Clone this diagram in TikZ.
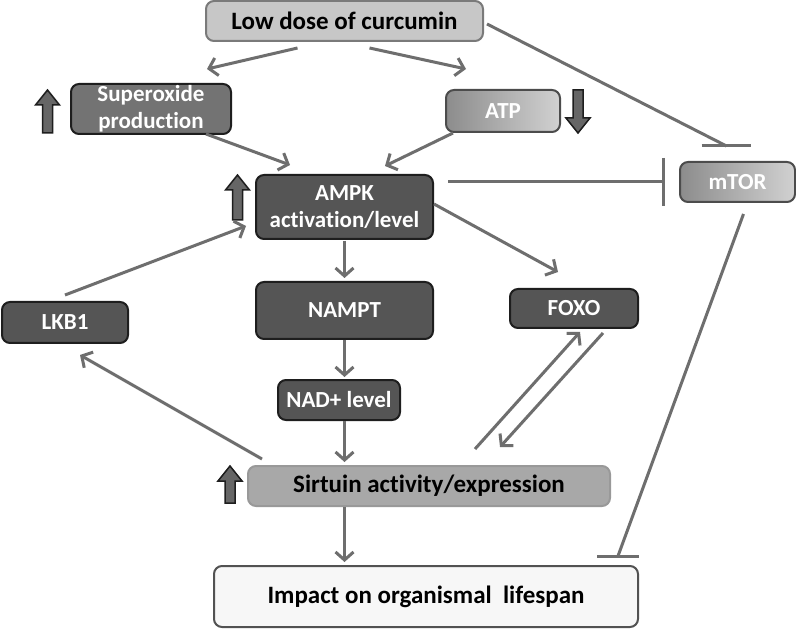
\documentclass[tikz,border=0pt]{standalone}
\usepackage{fontspec}
\setmainfont{Carlito}[Ligatures=NoCommon]
\usetikzlibrary{arrows.meta,calc}
\definecolor{linegray}{HTML}{6E6E6E}
\definecolor{darkbox}{HTML}{555555}
\definecolor{midbox}{HTML}{737373}
\definecolor{boxedge}{HTML}{1E1E1E}
\tikzset{
  box/.style={rounded corners=8pt, line width=2pt, align=center, font=\bfseries\fontsize{23}{27}\selectfont, inner sep=0pt},
  bigbox/.style={box, font=\bfseries\fontsize{25}{29}\selectfont},
  darknode/.style={box, fill=darkbox, draw=boxedge, text=white},
  gradnode/.style={box, left color=black!45, right color=black!18, draw=black!70, text=white},
  conn/.style={draw=linegray, line width=3pt, -{Straight Barb[length=8pt,width=18pt]}},
  inhib/.style={draw=linegray, line width=3pt},
  blockarr/.style={fill=black!60, draw=boxedge, line width=1.5pt, line join=miter}
}
\newcommand\upblock[3]{\draw[blockarr] (#1-5,#3) -- (#1+5,#3) -- (#1+5,#2+15) -- (#1+12,#2+15) -- (#1,#2) -- (#1-12,#2+15) -- (#1-5,#2+15) -- cycle;}
\newcommand\downblock[3]{\draw[blockarr] (#1-5,#2) -- (#1+5,#2) -- (#1+5,#3-15) -- (#1+12,#3-15) -- (#1,#3) -- (#1-12,#3-15) -- (#1-5,#3-15) -- cycle;}
\begin{document}
\begin{tikzpicture}[x=1pt,y=-1pt]
\path[use as bounding box, fill=white] (0,0) rectangle (796,631);

\node[bigbox, fill=black!22, draw=black!52, minimum width=277pt, minimum height=40pt] (low) at (344.5,21) {Low dose of curcumin};
\node[box, fill=midbox, draw=boxedge, text=white, minimum width=160pt, minimum height=50pt] (sup) at (151,109) {Superoxide\\production};
\node[gradnode, minimum width=114pt, minimum height=42pt] (atp) at (503,111) {ATP};
\node[darknode, minimum width=177pt, minimum height=64pt] (ampk) at (344.5,207) {AMPK\\activation/level};
\node[gradnode, minimum width=115pt, minimum height=40pt] (mtor) at (737.5,182) {mTOR};
\node[darknode, minimum width=126pt, minimum height=41pt] (lkb) at (65,322.5) {LKB1};
\node[darknode, minimum width=177pt, minimum height=57pt] (nampt) at (344.5,310.5) {NAMPT};
\node[darknode, minimum width=128pt, minimum height=39pt] (foxo) at (574,308.5) {FOXO};
\node[darknode, minimum width=122pt, minimum height=40pt] (nad) at (339,400) {NAD+ level};
\node[bigbox, fill=black!34, draw=black!40, minimum width=362pt, minimum height=40pt] (sirt) at (429,486) {Sirtuin activity/expression};
\node[bigbox, fill=black!3, draw=black!68, minimum width=424pt, minimum height=61pt] (imp) at (426,596.5) {Impact on organismal\ \ lifespan};

% block arrows
\upblock{47.5}{90}{133}
\downblock{578}{90}{133}
\upblock{237.5}{175}{220}
\upblock{230}{466}{503}

% connectors
\draw[conn] ($(low.south)+(-47,6)$) -- ($(sup.north)+(56,-14)$);
\draw[conn] ($(low.south)+(25,6)$) -- ($(atp.north)+(-37,-20)$);
\draw[conn] ($(sup.south)+(55,-1)$) -- ($(ampk.north)+(-54.5,-9)$);
\draw[conn] ($(atp.south)+(-50,0)$) -- ($(ampk.north)+(40.5,-8)$);
\draw[conn] ($(lkb.north)+(0,-6)$) -- ($(ampk.west)+(-9,19)$);
\draw[conn] ($(ampk.south)+(0,1)$) -- ($(nampt.north)+(0,-3)$);
\draw[conn] ($(ampk.east)+(0,-3)$) -- ($(foxo.north)+(-16,-16)$);
\draw[conn] (nampt.south) -- ($(nad.north -| nampt.south)+(0,-2)$);
\draw[conn] (nad.south -| nampt.south) -- ($(sirt.north -| nampt.south)+(0,-3)$);
\draw[conn] ($(sirt.north west)+(15,-6)$) -- ($(lkb.south)+(15,11)$);
\draw[conn] ($(sirt.north)+(46,-16)$) -- ($(foxo.south)+(6,3)$);
\draw[conn] ($(foxo.south)+(29,4)$) -- ($(sirt.north)+(71,-18)$);
\draw[conn] (sirt.south -| nampt.south) -- ($(imp.north -| nampt.south)+(0,-3)$);

% inhibitions
\draw[inhib, -{Bar[width=48pt]}] ($(ampk.east)+(14,-25)$) -- ($(mtor.west)+(-14,0)$);
\coordinate (bar1) at ($(mtor.north)+(-11,-15)$);
\draw[inhib] ($(low.east)+(3,3)$) -- (bar1);
\draw[inhib] ($(bar1)+(-25,0)$) -- ($(bar1)+(24,0)$);
\coordinate (bar2) at ($(imp.north east)+(-21,-9)$);
\draw[inhib] ($(mtor.south)+(6,11)$) -- (bar2);
\draw[inhib] ($(bar2)+(-21,0)$) -- ($(bar2)+(21,0)$);
\end{tikzpicture}
\end{document}
